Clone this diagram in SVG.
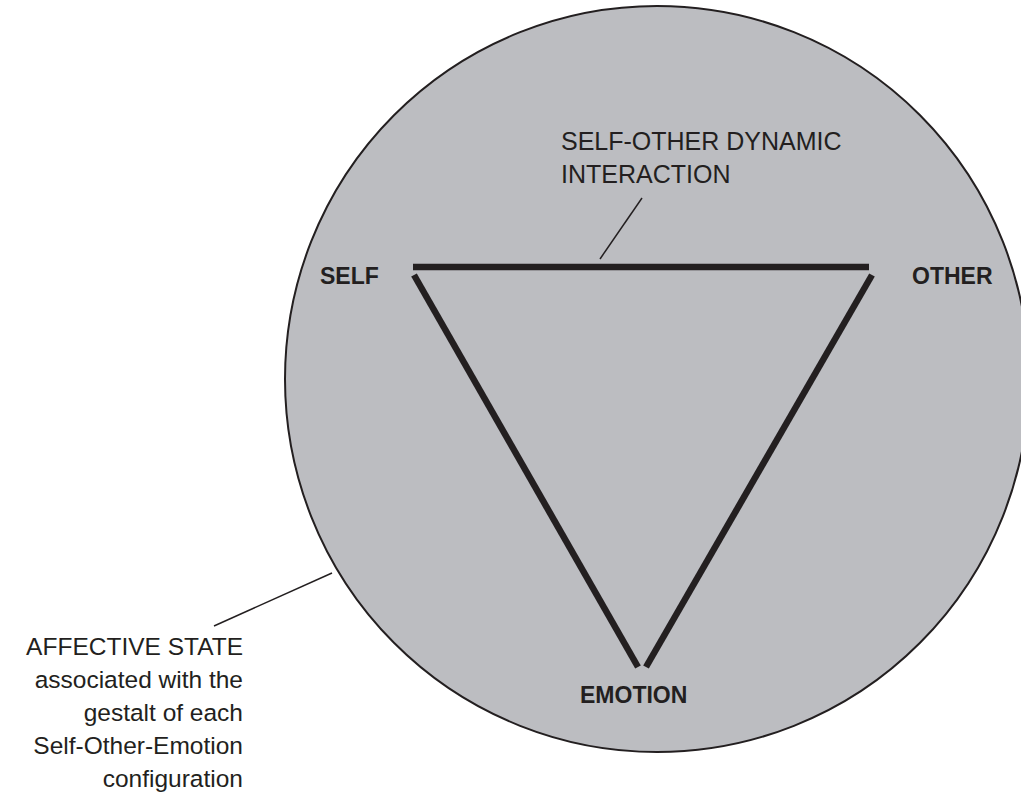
<svg xmlns="http://www.w3.org/2000/svg" width="1021" height="796" viewBox="0 0 1021 796">
  <style>
    .label { font-family: "Liberation Sans", Arial, sans-serif; fill: #231f20; }
    .bold { font-weight: bold; font-size: 23px; }
    .light { font-size: 25px; }
    .thick { stroke: #231f20; stroke-width: 6.5; fill: none; stroke-linecap: butt; }
    .thin { stroke: #231f20; stroke-width: 1.5; fill: none; }
  </style>
  <rect x="0" y="0" width="1021" height="796" fill="#ffffff"/>
  <g id="affective-state">
    <ellipse cx="657" cy="379" rx="372" ry="373" fill="#bcbdc1" stroke="#231f20" stroke-width="2"/>
  </g>
  <g id="connectors">
    <line class="thick" x1="413" y1="267" x2="869" y2="267"/>
    <line class="thick" x1="414" y1="275" x2="638" y2="667"/>
    <line class="thick" x1="872" y1="275" x2="646" y2="667"/>
    <line class="thin" x1="600" y1="259" x2="642" y2="198"/>
    <line class="thin" x1="214" y1="626" x2="332" y2="573"/>
  </g>
  <g id="self">
    <text class="label bold" x="320" y="284">SELF</text>
  </g>
  <g id="other">
    <text class="label bold" x="912" y="284">OTHER</text>
  </g>
  <g id="emotion">
    <text class="label bold" x="580" y="703">EMOTION</text>
  </g>
  <g id="interaction-label">
    <text class="label light" x="561" y="150">SELF-OTHER DYNAMIC</text>
    <text class="label light" x="561" y="183">INTERACTION</text>
  </g>
  <g id="affective-label">
    <text class="label light" x="243" y="655" text-anchor="end" font-size="24.5" style="font-size:24.5px">AFFECTIVE STATE</text>
    <text class="label light" x="243" y="688" text-anchor="end" style="font-size:24.5px">associated with the</text>
    <text class="label light" x="243" y="721" text-anchor="end" style="font-size:24.5px">gestalt of each</text>
    <text class="label light" x="243" y="754" text-anchor="end" style="font-size:24.5px">Self-Other-Emotion</text>
    <text class="label light" x="243" y="787" text-anchor="end" style="font-size:24.5px">configuration</text>
  </g>
</svg>
